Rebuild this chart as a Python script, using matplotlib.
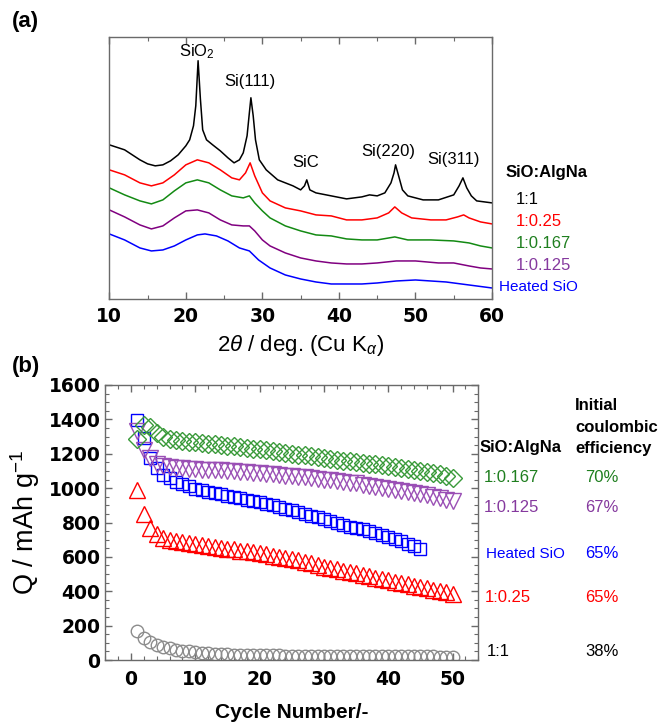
import matplotlib
matplotlib.use('Agg')
import matplotlib.pyplot as plt
from matplotlib.ticker import MultipleLocator

plt.rcParams['font.family'] = ['Liberation Sans', 'DejaVu Sans']
plt.rcParams['mathtext.fontset'] = 'custom'
plt.rcParams['mathtext.rm'] = 'Liberation Sans'
plt.rcParams['mathtext.it'] = 'Liberation Sans:italic'

W, H = 661, 722

GREEN = '#1f7f1f'
PURPLE = '#85399e'
BLUE = '#0000ff'
RED = '#ff0000'
GRAY = '#8c8c8c'
FRAME = '#6a6a6a'

# ---- (a) XRD patterns: 2theta, intensity (arb., offset as in figure)
tt_black = [10, 12, 14, 15, 16, 17, 18, 19, 20, 20.5, 21, 21.3, 21.6, 21.9, 22.2, 22.7, 23.5, 24.5,
            25.5, 26.3, 27, 27.5, 28, 28.3, 28.5, 28.8, 29.1, 29.6, 30.5, 32, 34, 35, 35.5, 35.8,
            36.2, 37, 39, 41, 43, 44, 45, 46, 46.8, 47.2, 47.4, 47.8, 48.3, 49, 51, 53, 55, 55.7,
            56.2, 56.7, 57.3, 58, 60]
i_black = [154, 149, 139, 135, 133, 134, 138, 144, 153, 159, 173, 193, 238, 200, 169, 159, 154, 148,
           141, 136, 139, 146, 163, 186, 201, 183, 159, 139, 129, 119, 113, 109, 113, 119,
           109, 106, 103, 100, 102, 104, 103, 106, 116, 126, 134, 123, 109, 103, 99, 99, 104, 113,
           121, 111, 103, 98, 96]

tt_red = [10, 12, 14, 15.5, 17, 18.5, 20, 21.5, 23, 24.5, 26, 27, 27.8, 28.4, 29, 30, 31, 33, 35, 37,
          39, 41, 43, 45, 46.5, 47.3, 48.2, 49.5, 52, 54, 55.5, 56.3, 57, 58.5, 60]
i_red = [129, 124, 116, 113, 116, 124, 134, 139, 136, 129, 121, 119, 126, 136, 123, 106, 98, 91, 88, 84,
         83, 79, 79, 81, 86, 92, 86, 81, 79, 79, 82, 84, 81, 77, 75]

tt_green = [10, 12, 14, 15.5, 17, 18.5, 20, 21.5, 23, 24.5, 26, 27.5, 28.3, 29, 30, 31, 33, 35, 37, 39,
            41, 43, 45, 47.3, 49, 52, 55, 57, 58.5, 60]
i_green = [111, 104, 98, 95, 99, 108, 116, 119, 116, 109, 103, 101, 103, 96, 88, 81, 73, 68, 64, 63,
           60, 59, 59, 62, 59, 59, 58, 56, 53, 51]

tt_purple = [10, 12, 14, 15.5, 17, 18.5, 20, 21.5, 23, 24.5, 26, 27.5, 28.3, 29, 30, 31, 33, 35, 37, 39,
             41, 43, 45, 47.5, 50, 53, 55, 57, 58.5, 60]
i_purple = [89, 82, 74, 70, 73, 81, 88, 89, 86, 79, 74, 73, 73, 68, 59, 53, 46, 41, 38, 36,
            35, 35, 36, 38, 38, 36, 36, 33, 31, 30]

tt_blue = [10, 12, 14, 15.5, 17, 18.5, 20, 21.5, 22.5, 24, 25.5, 27, 28.3, 29.5, 31, 33, 35, 37, 39,
           41, 43, 45, 47.5, 50, 52, 54, 56, 58, 60]
i_blue = [65, 59, 51, 48, 49, 53, 59, 64, 65, 63, 58, 51, 48, 39, 31, 24, 20, 17, 15,
          15, 15, 16, 18, 19, 18, 17, 15, 13, 11]

peak_labels = ['SiO$_2$', 'Si(111)', 'SiC', 'Si(220)', 'Si(311)']
peak_pos = [21.5, 28.4, 35.6, 46.5, 55.0]
peak_lab_y = [247, 217, 136, 147, 139]

# ---- (b) discharge capacity vs cycle
cyc50 = list(range(1, 51))
cyc45 = list(range(1, 46))
q_1_0167 = [1284, 1367, 1353, 1319, 1300, 1288, 1280, 1274, 1271, 1268,
            1263, 1258, 1255, 1251, 1248, 1243, 1239, 1234, 1229, 1225,
            1220, 1215, 1210, 1205, 1200, 1195, 1190, 1185, 1180, 1175,
            1170, 1165, 1160, 1155, 1150, 1146, 1142, 1138, 1134, 1130,
            1124, 1118, 1112, 1106, 1100, 1094, 1087, 1080, 1070, 1057]
q_1_0125 = [1333, 1220, 1175, 1141, 1130, 1122, 1119, 1116, 1113, 1110,
            1108, 1107, 1105, 1104, 1102, 1099, 1096, 1093, 1089, 1086,
            1083, 1080, 1077, 1073, 1070, 1066, 1062, 1058, 1054, 1050,
            1046, 1041, 1037, 1032, 1027, 1021, 1015, 1009, 1003, 997,
            991, 985, 980, 974, 968, 960, 951, 942, 933, 924]
q_heated = [1396, 1294, 1175, 1116, 1076, 1057, 1037, 1023, 1011, 997,
            987, 978, 971, 964, 956, 948, 940, 932, 925, 918,
            908, 899, 890, 881, 870, 859, 849, 839, 830, 820,
            808, 796, 786, 776, 768, 760, 751, 741, 728, 715,
            703, 691, 677, 662, 648]
q_1_025 = [988, 849, 766, 731, 711, 701, 695, 688, 681, 675,
           670, 664, 659, 653, 648, 643, 637, 632, 627, 622,
           615, 607, 600, 595, 590, 581, 571, 562, 552, 543,
           535, 527, 520, 512, 504, 496, 488, 480, 472, 464,
           456, 448, 441, 433, 425, 417, 409, 401, 393, 385]
q_1_1 = [168, 128, 105, 89, 75, 67, 60, 55, 50, 45,
         42, 40, 37, 35, 34, 32, 31, 30, 29, 28,
         28, 27, 27, 26, 26, 25, 25, 25, 24, 24,
         24, 24, 23, 23, 23, 23, 23, 22, 22, 22,
         22, 22, 21, 21, 21, 21, 21, 20, 20, 20]

ratios_b = ['1:0.167', '1:0.125', 'Heated SiO', '1:0.25', '1:1']
ice = ['70%', '67%', '65%', '65%', '38%']


def fx(x):
    return x / W


def fy(y):
    return 1 - y / H


def style_axes(ax):
    for s in ax.spines.values():
        s.set_color(FRAME)
        s.set_linewidth(1.0)
    ax.tick_params(which='both', direction='in', color=FRAME, top=True, right=True)
    ax.tick_params(which='major', length=5, width=1)
    ax.tick_params(which='minor', length=3, width=0.8)
    for lab in ax.get_xticklabels() + ax.get_yticklabels():
        lab.set_family('DejaVu Sans')
        lab.set_fontweight('bold')
        lab.set_fontsize(13.5)


fig = plt.figure(figsize=(W / 100, H / 100), dpi=100)

# ---------------- panel (a)
axa = fig.add_axes([fx(109.3), fy(299), fx(492 - 109.3), (299 - 36.7) / H])
axa.plot(tt_black, i_black, color='black', lw=1.1)
axa.plot(tt_red, i_red, color=RED, lw=1.1)
axa.plot(tt_green, i_green, color='#138a13', lw=1.1)
axa.plot(tt_purple, i_purple, color='#800080', lw=1.1)
axa.plot(tt_blue, i_blue, color=BLUE, lw=1.1)
axa.set_xlim(10, 60)
axa.set_ylim(0, 262)
axa.xaxis.set_major_locator(MultipleLocator(10))
axa.xaxis.set_minor_locator(MultipleLocator(5))
axa.set_yticks([])
style_axes(axa)
axa.tick_params(axis='y', left=False, right=False)
axa.tick_params(axis='x', pad=6)
for lab, px, py in zip(peak_labels, peak_pos, peak_lab_y):
    axa.text(px, py, lab, ha='center', va='center', fontsize=12)
axa.set_xlabel(r'2$\mathit{\theta}$ / deg. (Cu K$_\alpha$)', fontsize=16, labelpad=5)

fig.text(fx(12), fy(22), '(a)', fontsize=16, fontweight='bold', va='center')
fig.text(fx(506), fy(172), 'SiO:AlgNa', fontsize=12, fontweight='bold', va='center')
ratio_a = ['1:1', '1:0.25', '1:0.167', '1:0.125', 'Heated SiO']
cols_a = ['black', RED, GREEN, PURPLE, BLUE]
xa = [516, 516, 516, 516, 499]
ya = [200, 221, 243, 266, 287]
for t, c, x, y in zip(ratio_a, cols_a, xa, ya):
    fig.text(fx(x), fy(y), t, color=c, fontsize=12 if t != 'Heated SiO' else 11, va='center')

# ---------------- panel (b)
axb = fig.add_axes([fx(105.3), fy(660), fx(478.3 - 105.3), (660 - 385) / H])
mk = dict(linestyle='none', markerfacecolor='none', markeredgewidth=1.0)
axb.plot(cyc50, q_1_1, marker='o', markersize=9, markeredgecolor=GRAY, **mk)
axb.plot(cyc50, q_1_025, marker='^', markersize=11, markeredgecolor=RED, **mk)
axb.plot(cyc45, q_heated, marker='s', markersize=9, markeredgecolor=BLUE, **mk)
axb.plot(cyc50, q_1_0125, marker='v', markersize=11, markeredgecolor='#9a4fb5', **mk)
axb.plot(cyc50, q_1_0167, marker='D', markersize=9, markeredgecolor='#3a9a3a', **mk)
axb.set_xlim(-4, 54)
axb.set_ylim(0, 1600)
axb.xaxis.set_major_locator(MultipleLocator(10))
axb.xaxis.set_minor_locator(MultipleLocator(2))
axb.yaxis.set_major_locator(MultipleLocator(200))
axb.yaxis.set_minor_locator(MultipleLocator(50))
style_axes(axb)
axb.tick_params(axis='x', pad=7)
axb.set_ylabel('Q / mAh g$^{-1}$', fontsize=19.5, labelpad=5)
axb.set_xlabel('Cycle Number/-', fontsize=15, fontweight='bold', labelpad=10)

fig.text(fx(12), fy(366), '(b)', fontsize=16, fontweight='bold', va='center')
fig.text(fx(575), fy(427), 'Initial\ncoulombic\nefficiency', fontsize=12, fontweight='bold',
         va='center', linespacing=1.5)
fig.text(fx(480), fy(448), 'SiO:AlgNa', fontsize=12, fontweight='bold', va='center')
cols_b = [GREEN, PURPLE, BLUE, RED, 'black']
yb = [478, 508, 554, 597, 652]
xb = [484, 484, 486, 485, 487]
for t, e, c, x, y in zip(ratios_b, ice, cols_b, xb, yb):
    fig.text(fx(x), fy(y), t, color=c, fontsize=12 if t != 'Heated SiO' else 11, va='center')
    fig.text(fx(585), fy(y), e, color=c, fontsize=12, va='center')

fig.savefig('out.png', dpi=100)
